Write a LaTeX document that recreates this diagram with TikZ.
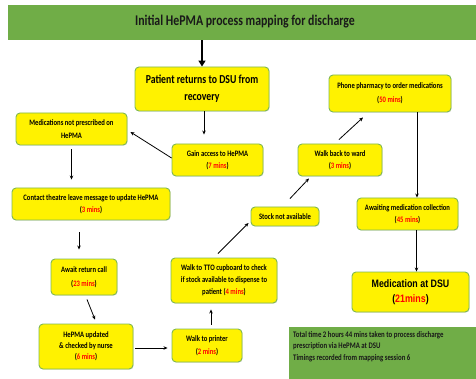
\documentclass[tikz,border=0pt]{standalone}
\usepackage{fontspec}
\setmainfont{Carlito}[FakeStretch=0.8]
\newfontfamily\narrowfont[FakeStretch=0.82]{Liberation Sans}
\usetikzlibrary{arrows.meta,shadows}
\definecolor{bandgreen}{HTML}{70AD47}
\definecolor{boxborder}{HTML}{7FB853}
\definecolor{timered}{HTML}{FF0000}
\newcommand{\tm}[1]{(\textcolor{timered}{#1})}
\begin{document}
\begin{tikzpicture}[x=1pt,y=-1pt,
  procbox/.style={draw=boxborder, line width=0.9pt, fill=yellow, rounded corners=4pt,
    align=center, inner sep=1pt, font=\bfseries\fontsize{8.3}{12.5}\selectfont,
    drop shadow={shadow xshift=0.7pt, shadow yshift=-0.7pt, opacity=0.25}},
  flow/.style={-{Stealth[length=4pt,width=3.5pt]}, line width=0.8pt, black},
  bigflow/.style={-{Triangle[length=6pt,width=7pt]}, line width=2.2pt, black},
  band/.style={fill=bandgreen, draw=none, inner sep=0pt}
]
\useasboundingbox (0,0) rectangle (476,379);

% title band
\node[band, minimum width=468pt, minimum height=35pt] (title) at (242,22.5) {};
\node[font=\bfseries\fontsize{14.8}{16}\selectfont, text=black!90] (titletext) at (245,22) {Initial HePMA process mapping for discharge};

% boxes
\node[procbox, minimum width=134pt, minimum height=44pt, font=\bfseries\fontsize{12.2}{17}\selectfont] (patient) at (202,89) {Patient returns to DSU from\\recovery};
\node[procbox, minimum width=122pt, minimum height=37pt, font=\bfseries\fontsize{8.3}{14}\selectfont] (phone) at (390,93.5) {Phone pharmacy to order medications\\\tm{50 mins}};
\node[procbox, minimum width=111pt, minimum height=32pt] (medsnot) at (71.5,129) {Medications not prescribed on\\HePMA};
\node[procbox, minimum width=91pt, minimum height=32pt] (gain) at (217.5,160) {Gain access to HePMA\\\tm{7 mins}};
\node[procbox, minimum width=158pt, minimum height=32pt] (contact) at (91,204) {Contact theatre leave message to update HePMA\\\tm{3 mins}};
\node[procbox, minimum width=66pt, minimum height=36pt, font=\bfseries\fontsize{8.3}{14}\selectfont] (await) at (84,277) {Await return call\\\tm{23 mins}};
\node[procbox, minimum width=94pt, minimum height=45pt, font=\bfseries\fontsize{8.3}{11}\selectfont] (hepma) at (86,346.5) {HePMA updated\\\& checked by nurse\\\tm{6 mins}};
\node[procbox, minimum width=70pt, minimum height=33pt] (printer) at (207,345.5) {Walk to printer\\\tm{2 mins}};
\node[procbox, minimum width=106pt, minimum height=45pt, font=\bfseries\fontsize{8.3}{12}\selectfont] (tto) at (224,280.5) {Walk to TTO cupboard to check\\if stock available to dispense to\\patient \tm{4 mins}};
\node[procbox, minimum width=68pt, minimum height=19pt] (stock) at (285,216.5) {Stock not available};
\node[procbox, minimum width=84pt, minimum height=32pt] (walkback) at (340,160) {Walk back to ward\\\tm{3 mins}};
\node[procbox, minimum width=101pt, minimum height=32pt] (awaiting) at (407.5,214) {Awaiting medication collection\\\tm{45 mins}};
\node[procbox, minimum width=117pt, minimum height=40pt, font=\narrowfont\bfseries\fontsize{10.8}{15}\selectfont] (meddsu) at (410.5,292) {Medication at DSU\\\tm{21mins}};

% note
\node[band, minimum width=187pt, minimum height=52pt, anchor=north west] (note) at (289,327) {};
\node[anchor=north west, align=left, inner sep=0pt, text=black!90, font=\bfseries\fontsize{8.5}{11.5}\selectfont] (notetext) at (293,331) {Total time 2 hours 44 mins taken to process discharge\\prescription via HePMA at DSU\\Timings recorded from mapping session 6};

% connectors
\draw[bigflow] (patient.north |- title.south) -- (patient.north);
\draw[flow] ([xshift=2pt]patient.south) -- ([xshift=2pt,yshift=9pt]patient.south |- gain.north);
\draw[flow] ([yshift=2pt]gain.west) -- ([xshift=3pt,yshift=-3pt]medsnot.east);
\draw[flow] ([yshift=-4pt]medsnot.south) -- ([yshift=8pt]medsnot.south |- contact.north);
\draw[flow] ([xshift=-12pt,yshift=-12pt]contact.south) -- ([xshift=-12pt,yshift=9pt]contact.south |- await.north);
\draw[flow] ([xshift=3pt,yshift=-4pt]await.south) -- ([xshift=9pt,yshift=4pt]hepma.north);
\draw[flow] ([xshift=2pt,yshift=-1.5pt]hepma.east) -- ([xshift=-4pt,yshift=-2.5pt]printer.west);
\draw[flow] ([xshift=4pt,yshift=4pt]printer.north) -- ([xshift=-13pt,yshift=-6pt]tto.south);
\draw[flow] ([xshift=-6pt,yshift=4pt]tto.north) -- ([xshift=-2pt,yshift=-6.5pt]stock.west);
\draw[flow] ([xshift=5pt,yshift=8pt]stock.north) -- ([xshift=-31pt,yshift=-2pt]walkback.south);
\draw[flow] ([xshift=-1pt,yshift=4pt]walkback.north) -- ([xshift=-27pt,yshift=-5pt]phone.south);
\draw[flow] ([xshift=27pt]phone.south) -- ([xshift=27pt]phone.south |- awaiting.north);
\draw[flow] ([xshift=9pt]awaiting.south) -- ([xshift=9pt]awaiting.south |- meddsu.north);
\end{tikzpicture}
\end{document}
